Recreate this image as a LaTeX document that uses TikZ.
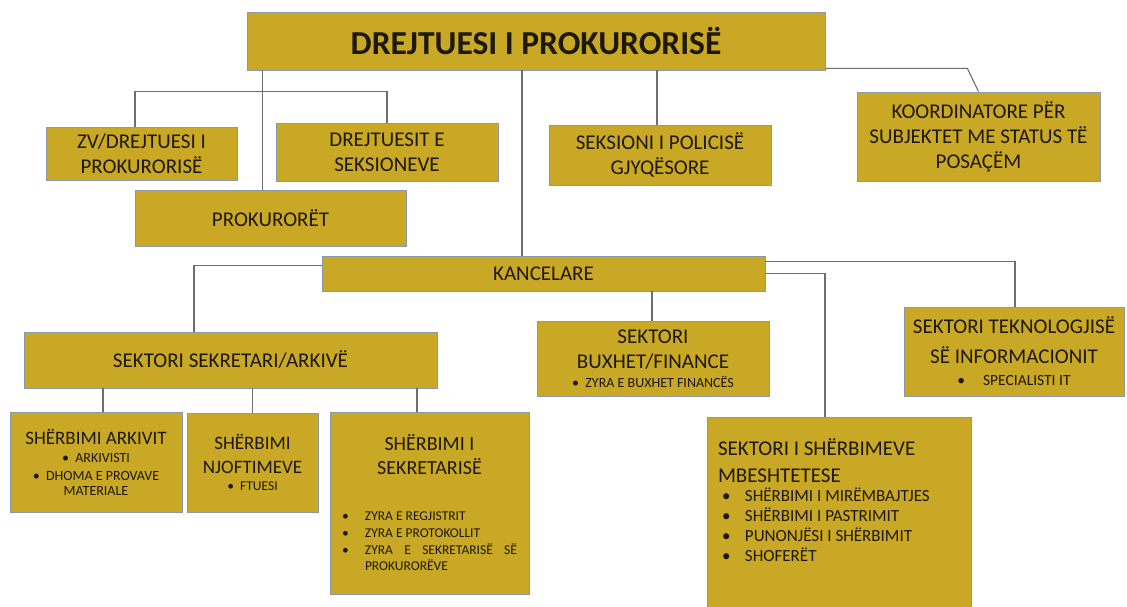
\documentclass[tikz,border=0pt]{standalone}
\usepackage{fontspec}
\setmainfont{Carlito}
\usetikzlibrary{positioning,calc}
\definecolor{gold}{RGB}{201,168,38}
\definecolor{edge}{RGB}{140,152,168}
\definecolor{wire}{RGB}{110,110,112}
\definecolor{ink}{RGB}{30,24,6}
\tikzset{
  unit/.style={draw=edge, line width=0.8pt, fill=gold, text=ink, inner sep=0pt, align=center,
               font=\fontsize{21}{25}\selectfont},
  link/.style={draw=wire, line width=1.1pt},
}
% one bullet item, text starting #1 from the box edge
\newcommand{\bitem}[4]{{\fontsize{#2}{#3}\selectfont\leftskip=#1\rightskip=12pt\parfillskip=0pt plus 1fil
  \tolerance=10000\hyphenpenalty=10000\noindent\llap{\makebox[23pt][l]{\textbullet}}#4\par}}

\begin{document}
\begin{tikzpicture}[x=1pt, y=-1pt]
        \useasboundingbox (0,0) rectangle (1127,607);
        \fill[white] (0,0) rectangle (1127,607);
        \clip (0,0) rectangle (1127,607);
        % top level
        \node[unit, minimum width=578, minimum height=58, font=\bfseries\fontsize{33.5}{36}\selectfont] (head) at (536,41) {DREJTUESI I PROKURORISË};
        \node[unit, minimum width=191, minimum height=53] (zv) at (141.5,153.5) {ZV/DREJTUESI I\\PROKURORISË};
        \node[unit, minimum width=222, minimum height=58] (drs) at (387,152) {DREJTUESIT E\\SEKSIONEVE};
        \node[unit, minimum width=222, minimum height=60] (pol) at (660,155) {SEKSIONI I POLICISË\\GJYQËSORE};
        \node[unit, minimum width=243, minimum height=89] (koord) at (978.5,136.5) {KOORDINATORE PËR\\SUBJEKTET ME STATUS TË\\POSAÇËM};
        \node[unit, minimum width=271, minimum height=56] (prok) at (270.5,218) {PROKURORËT};
        % kancelaria
        \node[unit, minimum width=443, minimum height=35] (kanc) at (543.5,273.5) {KANCELARE};
        \node[unit, minimum width=413, minimum height=56] (sekarch) at (230.5,360) {SEKTORI SEKRETARI/ARKIVË};
        \node[unit, minimum width=232, minimum height=75] (buxh) at (653,358.5)
             {SEKTORI\\BUXHET/FINANCE\\[-6pt]{\fontsize{14}{16}\selectfont\textbullet\ \ ZYRA E BUXHET FINANCËS}};
        \node[unit, minimum width=220, minimum height=89] (tek) at (1014,351.5)
             {SEKTORI TEKNOLOGJISË\\[5pt]SË INFORMACIONIT\\[-3pt]{\fontsize{15.5}{18}\selectfont\textbullet\hspace{18pt}SPECIALISTI IT}};
        % sherbimet
        \node[unit, minimum width=172, minimum height=100, font=\fontsize{14}{16}\selectfont] (ark) at (96,462)
             {{\fontsize{19}{22}\selectfont SHËRBIMI ARKIVIT}\\[2pt]\textbullet\ \ ARKIVISTI\\[2pt]\textbullet\ \ DHOMA E PROVAVE\\[-1pt]MATERIALE};
        \node[unit, minimum width=131, minimum height=99, font=\fontsize{19}{24}\selectfont] (njof) at (252.5,462.5)
             {SHËRBIMI\\NJOFTIMEVE\\[-7pt]{\fontsize{13.5}{14}\selectfont\textbullet\ \ FTUESI}};
        \node[unit] (sekr) at (429.5,503) {\parbox[t][182pt][t]{199pt}{\vspace*{22pt}%
             {\centering\fontsize{20}{24}\selectfont SHËRBIMI I\par SEKRETARISË\par}\vspace{30pt}%
             \bitem{35pt}{13.5}{16.7}{ZYRA E REGJISTRIT}
             \bitem{35pt}{13.5}{16.7}{ZYRA E PROTOKOLLIT}
             \bitem{35pt}{13.5}{16.7}{ZYRA E SEKRETARISË SË PROKURORËVE}}};
        \node[unit] (mbesh) at (839,518.5) {\parbox[t][203pt][t]{264pt}{\vspace*{22pt}%
             {\fontsize{21}{27}\selectfont\leftskip=11pt\noindent SEKTORI I SHËRBIMEVE\par\noindent MBESHTETESE\par}\vspace{-1pt}%
             \bitem{38pt}{17}{20}{SHËRBIMI I MIRËMBAJTJES}
             \bitem{38pt}{17}{20}{SHËRBIMI I PASTRIMIT}
             \bitem{38pt}{17}{20}{PUNONJËSI I SHËRBIMIT}
             \bitem{38pt}{17}{20}{SHOFERËT}}};
        % links from the head
        \draw[link] ($(head.south west)+(16,0)$) coordinate (hp) -- (hp |- prok.north);
        \draw[link] ([xshift=-6.5pt]zv.north) -- ++(0,-35) -| (drs.north);
        \draw[link] ([xshift=-21.5pt]kanc.north) -- ([xshift=-21.5pt]kanc.north |- head.south);
        \draw[link] ([xshift=-3pt]pol.north) -- ([xshift=-3pt]pol.north |- head.south);
        \draw[link] ([yshift=2pt]head.south east) -- ++(142,0) -- (koord.north);
        % links from kancelare
        \draw[link] ([yshift=8pt]kanc.west) -| ([xshift=-36.5pt]sekarch.north);
        \draw[link] ([yshift=12pt]kanc.east) -| ([xshift=1pt]tek.north);
        \draw[link] (kanc.east) -| ([xshift=-14pt]mbesh.north);
        \draw[link] ([xshift=-1pt]buxh.north) -- ([xshift=-1pt]buxh.north |- kanc.south);
        \draw[link] ([xshift=7pt]ark.north) -- ([xshift=7pt]ark.north |- sekarch.south);
        \draw[link] (njof.north) -- (njof.north |- sekarch.south);
        \draw[link] ([xshift=-12.5pt]sekr.north) -- ([xshift=-12.5pt]sekr.north |- sekarch.south);
    \end{tikzpicture}
\end{document}
